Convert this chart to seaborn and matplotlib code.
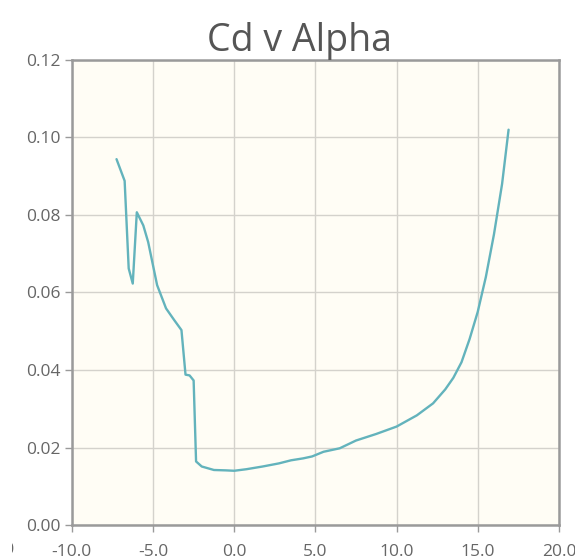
import matplotlib
matplotlib.use("Agg")
import matplotlib.pyplot as plt
from matplotlib.transforms import Bbox, TransformedBbox
import seaborn as sns
import pandas as pd

# Drag coefficient vs angle of attack
alpha = [-7.25, -6.75, -6.5, -6.25, -6.0, -5.6, -5.3, -4.75, -4.2, -3.7,
         -3.25, -3.0, -2.75, -2.5, -2.35, -2.0, -1.25, -0.5, 0.0, 0.75,
         1.75, 2.75, 3.5, 4.25, 4.8, 5.5, 6.5, 7.5, 8.75, 10.0,
         11.25, 12.25, 13.0, 13.5, 14.0, 14.5, 15.0, 15.5, 16.0, 16.5,
         16.9]
cd = [0.0944, 0.0888, 0.0662, 0.0623, 0.0807, 0.0773, 0.0730, 0.0619, 0.0559, 0.0529,
      0.0503, 0.0388, 0.0386, 0.0373, 0.0164, 0.0151, 0.0142, 0.0141, 0.0140, 0.0144,
      0.0151, 0.0159, 0.0167, 0.0172, 0.0177, 0.0189, 0.0198, 0.0218, 0.0235, 0.0254,
      0.0283, 0.0314, 0.0350, 0.0380, 0.0420, 0.0480, 0.0550, 0.0640, 0.0750, 0.0880,
      0.1020]

x_ticks = [-10, -5, 0, 5, 10, 15, 20]
y_ticks = [0.00, 0.02, 0.04, 0.06, 0.08, 0.10, 0.12]
title = "Cd v Alpha"

df = pd.DataFrame({"alpha": alpha, "cd": cd})

sns.set_theme(style="white")
plt.rcParams["font.family"] = ["Open Sans", "DejaVu Sans"]

fig = plt.figure(figsize=(5.75, 5.57), dpi=100)
ax = fig.add_axes([0.125, 0.0574, 0.847, 0.835])
ax.set_facecolor("#fffdf5")
fig.patch.set_facecolor("white")

sns.lineplot(data=df, x="alpha", y="cd", sort=False, ax=ax,
             color="#63b3bc", linewidth=1.7, zorder=3)

ax.set_xlim(-10, 20)
ax.set_ylim(0, 0.12)
ax.set_xticks(x_ticks)
ax.set_yticks(y_ticks)
ax.set_xticklabels([f"{t:.1f}" for t in x_ticks])
ax.set_yticklabels([f"{t:.2f}" for t in y_ticks])
ax.set_xlabel("")
ax.set_ylabel("")

ax.grid(True, color="#d4d2cc", linewidth=1.0, zorder=0)
for s in ax.spines.values():
    s.set_color("#9a9a9a")
    s.set_linewidth(1.8)

ax.tick_params(axis="both", which="both", direction="out", length=5, width=1,
               color="#9a9a9a", labelcolor="#666666", labelsize=12.5, pad=3,
               left=True, bottom=True)
ax.tick_params(axis="x", pad=8.5)

# label of the tick just beyond the left end of the axis, mostly hidden
edge = ax.text(-13.55, -0.0044, "-15.0", ha="right", va="top", color="#666666",
               fontsize=12.5, transform=ax.transData)
edge.set_clip_box(TransformedBbox(Bbox([[12 / 575, 0.0], [0.1, 0.1]]),
                                  fig.transFigure))
edge.set_clip_on(True)

fig.text(0.52, 0.908, title, ha="center", va="baseline",
         fontsize=27, color="#555555")

fig.savefig("out.png", dpi=100)
